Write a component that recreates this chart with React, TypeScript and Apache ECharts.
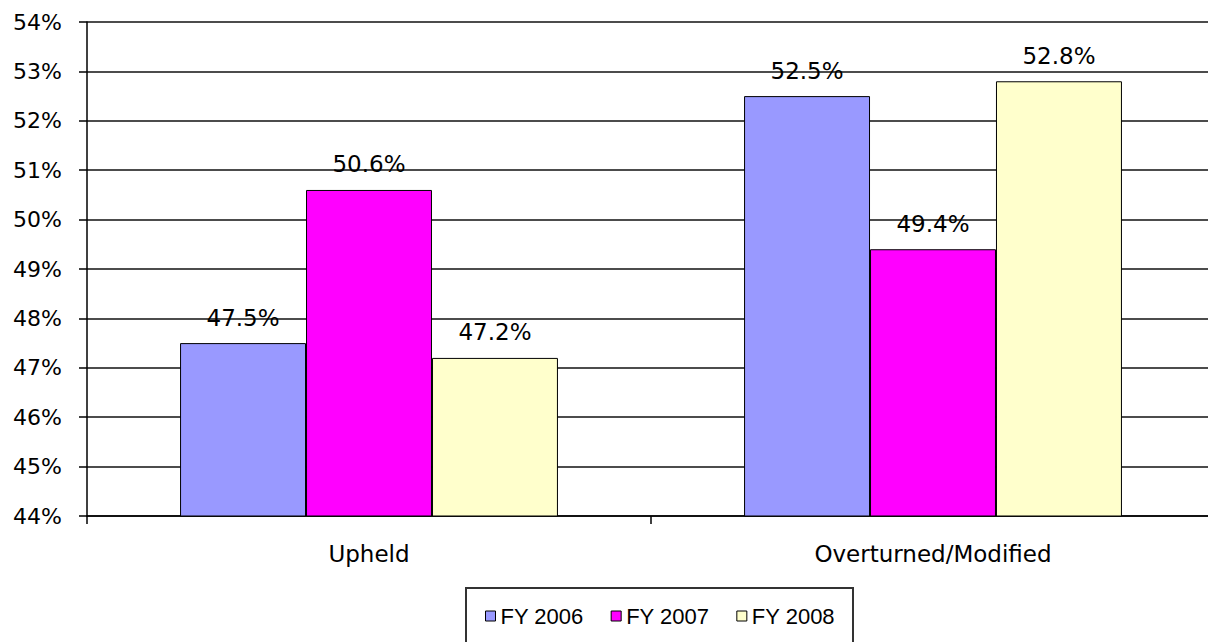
import React, { useEffect, useRef } from "react";
import * as echarts from "echarts";

const categories = ["Upheld", "Overturned/Modified"];
const seriesNames = ["FY 2006", "FY 2007", "FY 2008"];
const fy2006 = [47.5, 52.5];
const fy2007 = [50.6, 49.4];
const fy2008 = [47.2, 52.8];
const colors = ["#9999FF", "#FF00FF", "#FFFFCC"];

export default function App() {
  const ref = useRef<HTMLDivElement>(null);
  useEffect(() => {
    const chart = echarts.init(ref.current!, null, { renderer: "svg" });
    const font = "DejaVu Sans, sans-serif";
    const arial = "Liberation Sans, Arial, sans-serif";
    const data = [fy2006, fy2007, fy2008];
    chart.setOption({
      animation: false,
      textStyle: { fontFamily: font },
      grid: { left: 87, right: 1, top: 22, bottom: 126 },
      legend: {
        data: seriesNames.map((n) => ({ name: n })),
        left: 466,
        top: 588,
        padding: [17, 18, 20, 19],
        borderColor: "#333",
        borderWidth: 2,
        itemWidth: 10,
        itemHeight: 10,
        itemGap: 27,
        icon: "rect",
        itemStyle: { borderColor: "#000", borderWidth: 1 },
        textStyle: { fontSize: 22, color: "#000", fontFamily: arial, padding: [0, 0, 0, 0] },
      },
      xAxis: {
        type: "category",
        data: categories,
        axisLine: { lineStyle: { color: "#000", width: 1.5 } },
        axisTick: { show: true, length: 8, lineStyle: { color: "#000", width: 1.5 } },
        axisLabel: { fontSize: 23, color: "#000", margin: 26, fontFamily: font },
      },
      yAxis: {
        type: "value",
        min: 44,
        max: 54,
        interval: 1,
        axisLine: { show: true, lineStyle: { color: "#000", width: 1.5 } },
        axisTick: { show: true, length: 8, lineStyle: { color: "#000", width: 1.5 } },
        splitLine: { lineStyle: { color: "#111", width: 1.5 } },
        axisLabel: {
          fontSize: 22,
          color: "#000",
          margin: 25,
          fontFamily: font,
          formatter: (v: number) => v + "%",
        },
      },
      series: seriesNames.map((name, i) => ({
        name,
        type: "bar",
        data: data[i],
        barGap: "0%",
        barCategoryGap: "33%",
        itemStyle: { color: colors[i], borderColor: "#000", borderWidth: 1 },
        label: {
          show: true,
          position: "top",
          distance: 14,
          fontSize: 23,
          color: "#000",
          fontFamily: font,
          formatter: (p: any) => p.value.toFixed(1) + "%",
        },
      })),
    });
    return () => chart.dispose();
  }, []);
  return (
    <div style={{ position: "fixed", left: 0, top: 0, width: 1208, height: 642, overflow: "hidden", background: "#fff" }}>
      <div ref={ref} style={{ width: 1216, height: 642 }} />
    </div>
  );
}
